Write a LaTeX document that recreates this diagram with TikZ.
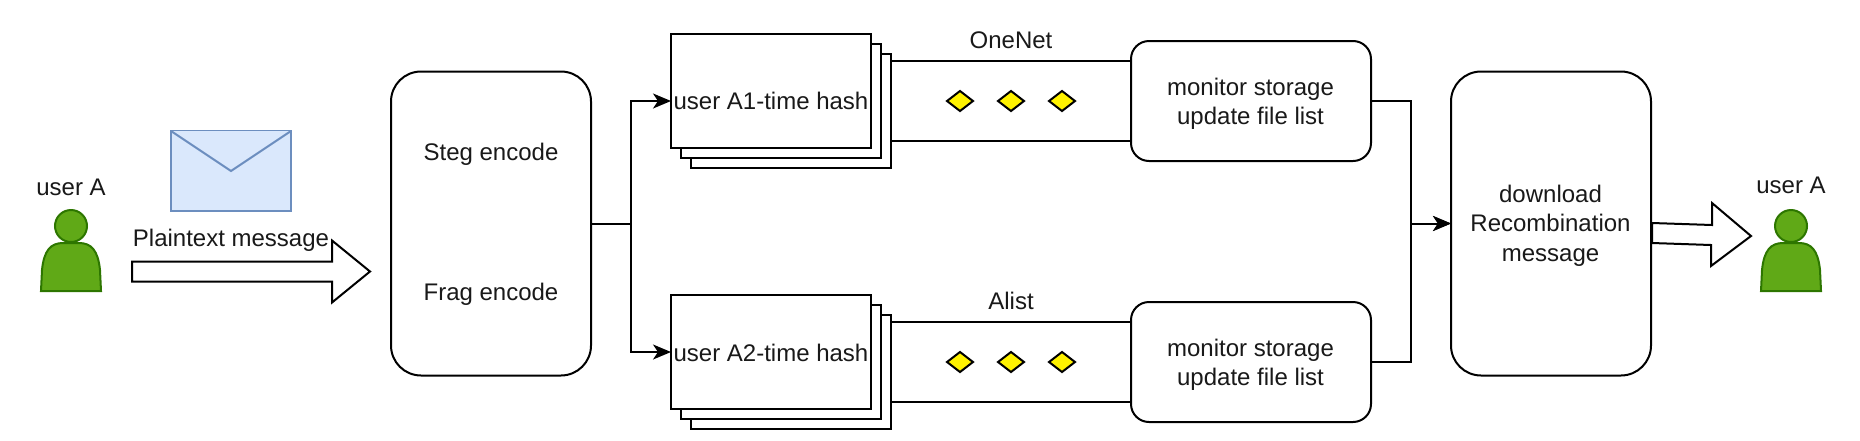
\documentclass[tikz,border=0pt]{standalone}
\usepackage{fontspec}
\setmainfont{Liberation Sans}
\usetikzlibrary{arrows.meta,shapes.geometric}
\definecolor{usergreen}{HTML}{60A917}
\definecolor{userline}{HTML}{2D7600}
\definecolor{mailfill}{HTML}{DAE8FC}
\definecolor{mailline}{HTML}{6C8EBF}
\tikzset{
  every node/.style={font=\fontsize{24}{29.4}\selectfont, inner sep=0pt, outer sep=0pt},
  line/.style={draw=black, line width=2pt},
  flow/.style={line, -{Stealth[length=18pt,width=15pt,inset=5pt]}},
  bigbox/.style={line, fill=white, rounded corners=30pt, minimum width=200pt, minimum height=304pt},
  monbox/.style={line, fill=white, rounded corners=18pt, minimum width=240pt, minimum height=120pt},
  sheet/.style={line, fill=white, minimum width=200pt, minimum height=114pt},
  dot/.style={line, fill=yellow, diamond, minimum width=26pt, minimum height=20pt, aspect=1.3},
  label/.style={text=black!90, align=center},
  blockarrow/.style={line, fill=white, line join=miter},
  person/.style={draw=userline, line width=2pt, fill=usergreen},
  mail/.style={draw=mailline, line width=2pt, fill=mailfill},
}
\newcommand{\personat}[2]{%
  \begin{scope}[shift={(#1,#2)}]
    \draw[person] (-30,65) -- (-29,44) .. controls (-27,24) and (-20,17) .. (-8,17) -- (8,17) .. controls (20,17) and (27,24) .. (29,44) -- (30,65) -- cycle;
    \draw[person] (0,0) circle (16);
  \end{scope}}
\begin{document}
\begin{tikzpicture}[x=1pt,y=-1pt]
\useasboundingbox (0,0) rectangle (1860,440);

% users
\personat{71}{226}
\personat{1791}{226}
\node[label] (userL) at (71,187) {user A};
\node[label] (userR) at (1791,185) {user A};

% envelope
\draw[mail] (171,131) rectangle (291,211);
\draw[mail] (171,131) -- (231,171) -- (291,131);

% plaintext arrow
\node[label] (plain) at (231,240) {Plaintext message};
\draw[blockarrow] (132,261.5) -- (332,261.5) -- (332,240.5) -- (370,271.5) -- (332,302.5) -- (332,281.5) -- (132,281.5) -- cycle;

% main boxes
\node[bigbox] (enc) at (491,223.5) {};
\node[label] (steg) at (491,154) {Steg encode};
\node[label] (frag) at (491,294) {Frag encode};
\node[bigbox] (rec) at (1551,223.5) {};
\node[label] (rect) at (1550.5,225.5) {download\\Recombination\\message};

% stacks, top
\node[sheet] (t3) at (791,111) {};
\node[sheet] (t2) at (781,101) {};
\node[sheet] (t1) at (771,91) {};
\node[label] (t1t) at (771,100.5) {user A1-time hash};
\node[monbox] (m1) at (1251,101) {};
\node[label] (m1t) at (1250.5,103.5) {monitor storage\\update file list};
\node[label] (one) at (1011,40.5) {OneNet};
\coordinate (t3a) at (891,61);
\coordinate (m1a) at (1131,61);
\coordinate (t3b) at (891,141);
\coordinate (m1b) at (1131,141);
\draw[line] (t3a) -- (m1a);
\draw[line] (t3b) -- (m1b);
\node[dot] (d1) at (960,101) {};
\node[dot] (d2) at (1011,101) {};
\node[dot] (d3) at (1062,101) {};

% stacks, bottom
\node[sheet] (b3) at (791,372) {};
\node[sheet] (b2) at (781,362) {};
\node[sheet] (b1) at (771,352) {};
\node[label] (b1t) at (771,352.5) {user A2-time hash};
\node[monbox] (m2) at (1251,362) {};
\node[label] (m2t) at (1250.5,364.5) {monitor storage\\update file list};
\node[label] (ali) at (1011,301) {Alist};
\coordinate (b3a) at (891,322);
\coordinate (m2a) at (1131,322);
\coordinate (b3b) at (891,402);
\coordinate (m2b) at (1131,402);
\draw[line] (b3a) -- (m2a);
\draw[line] (b3b) -- (m2b);
\node[dot] (e1) at (960,362) {};
\node[dot] (e2) at (1011,362) {};
\node[dot] (e3) at (1062,362) {};

% connectors
\coordinate (t1w) at (671,101);
\coordinate (b1w) at (671,352);
\draw[flow] (enc.east) -- (631,223.5) |- (t1w);
\draw[flow] (enc.east) -- (631,223.5) |- (b1w);
\draw[flow] (m1.east) -- (1411,101) |- (rec.west);
\draw[flow] (m2.east) -- (1411,362) |- (rec.west);

% output arrow
\draw[blockarrow] (1652,223) -- (1712,225) -- (1712,203) -- (1751,236) -- (1711,266) -- (1711,245) -- (1652,243) -- cycle;
\end{tikzpicture}
\end{document}
